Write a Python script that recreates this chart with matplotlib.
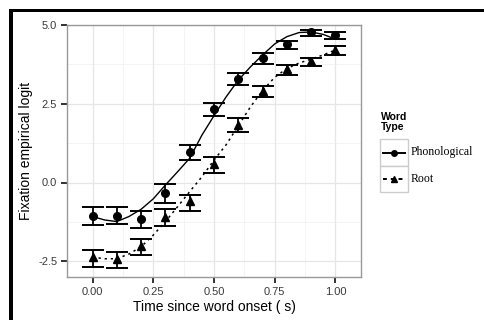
import matplotlib
matplotlib.use('Agg')
import matplotlib.pyplot as plt
from matplotlib.lines import Line2D
from matplotlib.patches import Rectangle

plt.rcParams['font.family'] = ['Liberation Sans', 'DejaVu Sans']

# observed means and error bar ends
time = [0.0, 0.1, 0.2, 0.3, 0.4, 0.5, 0.6, 0.7, 0.8, 0.9, 1.0]
phon_mean = [-1.06, -1.05, -1.17, -0.33, 0.97, 2.33, 3.29, 3.95, 4.39, 4.77, 4.67]
phon_lo = [-1.35, -1.32, -1.45, -0.64, 0.71, 2.10, 3.10, 3.76, 4.24, 4.66, 4.55]
phon_hi = [-0.78, -0.78, -0.90, -0.05, 1.20, 2.52, 3.47, 4.11, 4.50, 4.84, 4.78]
root_mean = [-2.37, -2.43, -2.02, -1.11, -0.60, 0.59, 1.83, 2.92, 3.60, 3.86, 4.21]
root_lo = [-2.68, -2.71, -2.30, -1.38, -0.90, 0.30, 1.60, 2.71, 3.41, 3.70, 4.05]
root_hi = [-2.14, -2.21, -1.79, -0.85, -0.40, 0.80, 2.05, 3.07, 3.73, 3.96, 4.33]

# model fit curves
fit_time = [0.0, 0.05, 0.1, 0.15, 0.2, 0.25, 0.3, 0.35, 0.4, 0.45, 0.5,
            0.55, 0.6, 0.65, 0.7, 0.75, 0.8, 0.85, 0.9, 0.95, 1.0]
phon_fit = [-1.08, -1.19, -1.24, -1.08, -0.85, -0.52, -0.08, 0.34, 0.77, 1.50, 2.12,
            2.72, 3.25, 3.67, 4.05, 4.40, 4.63, 4.76, 4.78, 4.70, 4.55]
root_fit = [-2.37, -2.42, -2.42, -2.27, -2.04, -1.67, -1.24, -0.77, -0.29, 0.18, 0.71,
            1.20, 1.80, 2.40, 2.92, 3.34, 3.62, 3.79, 3.92, 4.05, 4.21]

x_ticks = [0.0, 0.25, 0.5, 0.75, 1.0]
x_labels = ['0.00', '0.25', '0.50', '0.75', '1.00']
y_ticks = [-2.5, 0.0, 2.5, 5.0]
y_labels = ['-2.5', '0.0', '2.5', '5.0']

fig = plt.figure(figsize=(4.84, 3.2), dpi=100)
ax = fig.add_axes([67 / 484, 43 / 320, 294 / 484, 252 / 320])

ax.set_xlim(-0.105, 1.105)
ax.set_ylim(-3.0, 5.0)

# grid like theme_bw
for t in [0.125, 0.375, 0.625, 0.875]:
    ax.axvline(t, color='#f2f2f2', lw=0.6, zorder=0)
for t in [-1.25, 1.25, 3.75]:
    ax.axhline(t, color='#f2f2f2', lw=0.6, zorder=0)
for t in x_ticks:
    ax.axvline(t, color='#e6e6e6', lw=0.9, zorder=0)
for t in y_ticks:
    ax.axhline(t, color='#e6e6e6', lw=0.9, zorder=0)

ax.plot(fit_time, phon_fit, color='black', lw=1.0, ls='-', zorder=3)
ax.plot(fit_time, root_fit, color='black', lw=1.1, ls=(0, (1.5, 2.5)), zorder=3)

def err(mean, lo, hi):
    return [[m - l for m, l in zip(mean, lo)], [h - m for m, h in zip(mean, hi)]]

ax.errorbar(time, phon_mean, yerr=err(phon_mean, phon_lo, phon_hi), fmt='o',
            color='black', ms=5.5, elinewidth=1.3, capsize=7.6, capthick=1.4, zorder=4)
ax.errorbar(time, root_mean, yerr=err(root_mean, root_lo, root_hi), fmt='^',
            color='black', ms=5.5, elinewidth=1.3, capsize=7.6, capthick=1.4, zorder=4)

ax.set_xticks(x_ticks)
ax.set_xticklabels(x_labels)
ax.set_yticks(y_ticks)
ax.set_yticklabels(y_labels)
ax.tick_params(length=4, width=1.3, color='#222222', labelsize=8,
               labelcolor='#3a3a3a', pad=3)
for s in ax.spines.values():
    s.set_color('#999999')
    s.set_linewidth(1.0)

ax.set_xlabel('Time since word onset ( s)', fontsize=10, labelpad=2)
ax.set_ylabel('Fixation empirical logit', fontsize=10, labelpad=4)

# legend drawn by hand
fig.text(381 / 484, 1 - 112 / 320, 'Word\nType', fontsize=7.5, fontweight='bold',
         va='top', ha='left', linespacing=1.0)
for i, (name, mk, ls) in enumerate([('Phonological', 'o', '-'), ('Root', '^', (0, (2, 2)))]):
    y0 = 139 + i * 26.5
    fig.add_artist(Rectangle((380 / 484, 1 - (y0 + 26.5) / 320), 28 / 484, 26.5 / 320,
                             transform=fig.transFigure, facecolor='white',
                             edgecolor='#cccccc', lw=1.0))
    yc = 1 - (y0 + 13.5) / 320
    fig.add_artist(Line2D([383 / 484, 405 / 484], [yc, yc], transform=fig.transFigure,
                          color='black', lw=1.4, ls=ls))
    fig.add_artist(Line2D([394 / 484], [yc], transform=fig.transFigure, color='black',
                          marker=mk, ms=4))
    fig.text(411 / 484, yc, name, fontsize=8.5, family=['Liberation Serif', 'DejaVu Serif'],
             va='center', ha='left')

# black frame on top and left
fig.add_artist(Rectangle((9 / 484, 1 - 12 / 320), 475 / 484, 3 / 320,
                         transform=fig.transFigure, facecolor='black', lw=0))
fig.add_artist(Rectangle((9 / 484, 0), 4 / 484, 1 - 9 / 320,
                         transform=fig.transFigure, facecolor='black', lw=0))

fig.savefig('out.png', dpi=100)
